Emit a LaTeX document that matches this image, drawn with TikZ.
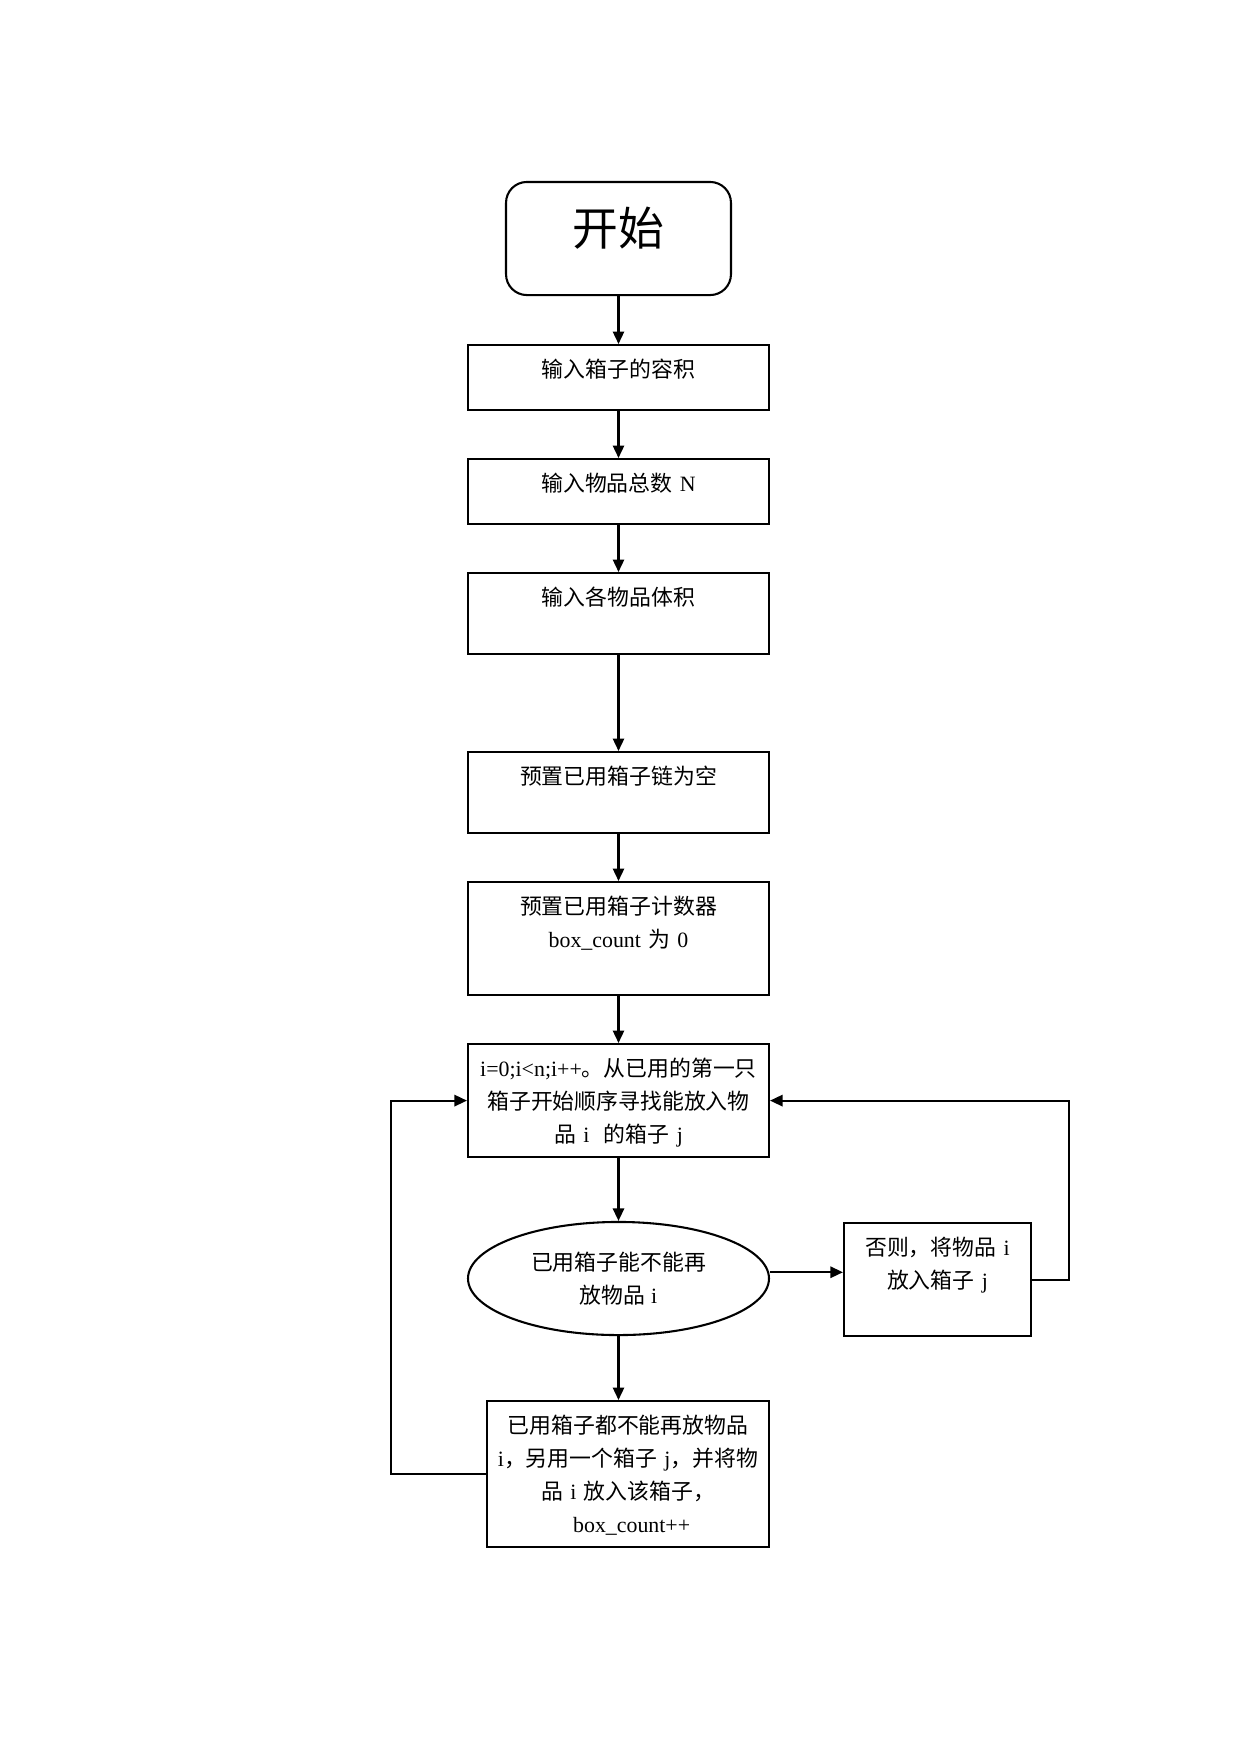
\documentclass[tikz,border=0pt]{standalone}
\usepackage{fontspec}
\setmainfont{Liberation Serif}
\newfontfamily\cjk{Noto Sans CJK SC}
\usetikzlibrary{shapes.geometric, arrows.meta}
\tikzstyle{startstop} = [rectangle, rounded corners=10pt, draw, line width=1pt, minimum width=108pt, inner sep=0pt, text height=30.7pt, text depth=23.6pt, font=\fontsize{22pt}{26pt}\selectfont\cjk]
\tikzstyle{process} = [rectangle, draw, line width=1pt, inner xsep=2pt, inner ysep=0pt, text width=140.5pt, align=center, text height=15.8pt, text depth=15.4pt, anchor=north, font=\fontsize{10.5pt}{15.7pt}\selectfont]
\tikzstyle{decision} = [ellipse, draw, line width=1pt, minimum width=144.5pt, minimum height=54.3pt, inner sep=0pt, align=center, font=\fontsize{10.5pt}{15.6pt}\selectfont]
\tikzstyle{arrow} = [line width=1pt, -{Triangle[length=6pt, width=5.4pt]}]

\begin{document}
\begin{tikzpicture}[x=0.4801pt, y=-0.4801pt]
\useasboundingbox (0,0) rectangle (1240,1753);

\node[startstop] (start) at (618.5,238.5) {开始};
\node[process] (cap) at (618.5,344) {{\cjk 输入箱子的容积}};
\node[process] (num) at (618.5,458) {{\cjk 输入物品总数} N};
\node[process, text depth=23.1pt] (vol) at (618.5,572) {{\cjk 输入各物品体积}};
\node[process, text depth=23.1pt] (chain) at (618.5,751) {{\cjk 预置已用箱子链为空}};
\node[process, text depth=38.5pt] (count) at (618.5,881) {{\cjk 预置已用箱子计数器}\\box\_count {\cjk 为} 0};
\node[process, text depth=38.5pt] (loop) at (618.5,1043) {i=0;i<n;i++{\cjk 。从已用的第一只}\\{\cjk 箱子开始顺序寻找能放入物}\\{\cjk 品} i\ \ {\cjk 的箱子} j};
\node[decision] (dec) at (618.5,1278.5) {{\cjk 已用箱子能不能再}\\{\cjk 放物品} i};
\node[process, text depth=38.5pt, text width=85.8pt] (other) at (937.5,1222) {{\cjk 否则，将物品} i\\{\cjk 放入箱子} j};
\node[process, text depth=54.3pt, text width=131.4pt] (newbox) at (628,1400) {{\cjk 已用箱子都不能再放物品}\\i{\cjk ，另用一个箱子} j{\cjk ，并将物}\\{\cjk 品} i {\cjk 放入该箱子，}\\\ box\_count++};

\coordinate (lturn) at (391,0);
\coordinate (rturn) at (1069,0);

\draw[arrow] (start) -- (cap);
\draw[arrow] (cap) -- (num);
\draw[arrow] (num) -- (vol);
\draw[arrow] (vol) -- (chain);
\draw[arrow] (chain) -- (count);
\draw[arrow] (count) -- (loop);
\draw[arrow] (loop) -- (dec);
\draw[arrow] ([yshift=3pt]dec.east) -- ([yshift=3pt]dec.east -| other.west);
\draw[arrow] (dec.south) -- (dec.south |- newbox.north);
% back to the loop
\draw[arrow] (other.east) -- (other.east -| rturn) |- (loop.east);
\draw[arrow] (newbox.west) -- (newbox.west -| lturn) |- (loop.west);
\end{tikzpicture}
\end{document}
